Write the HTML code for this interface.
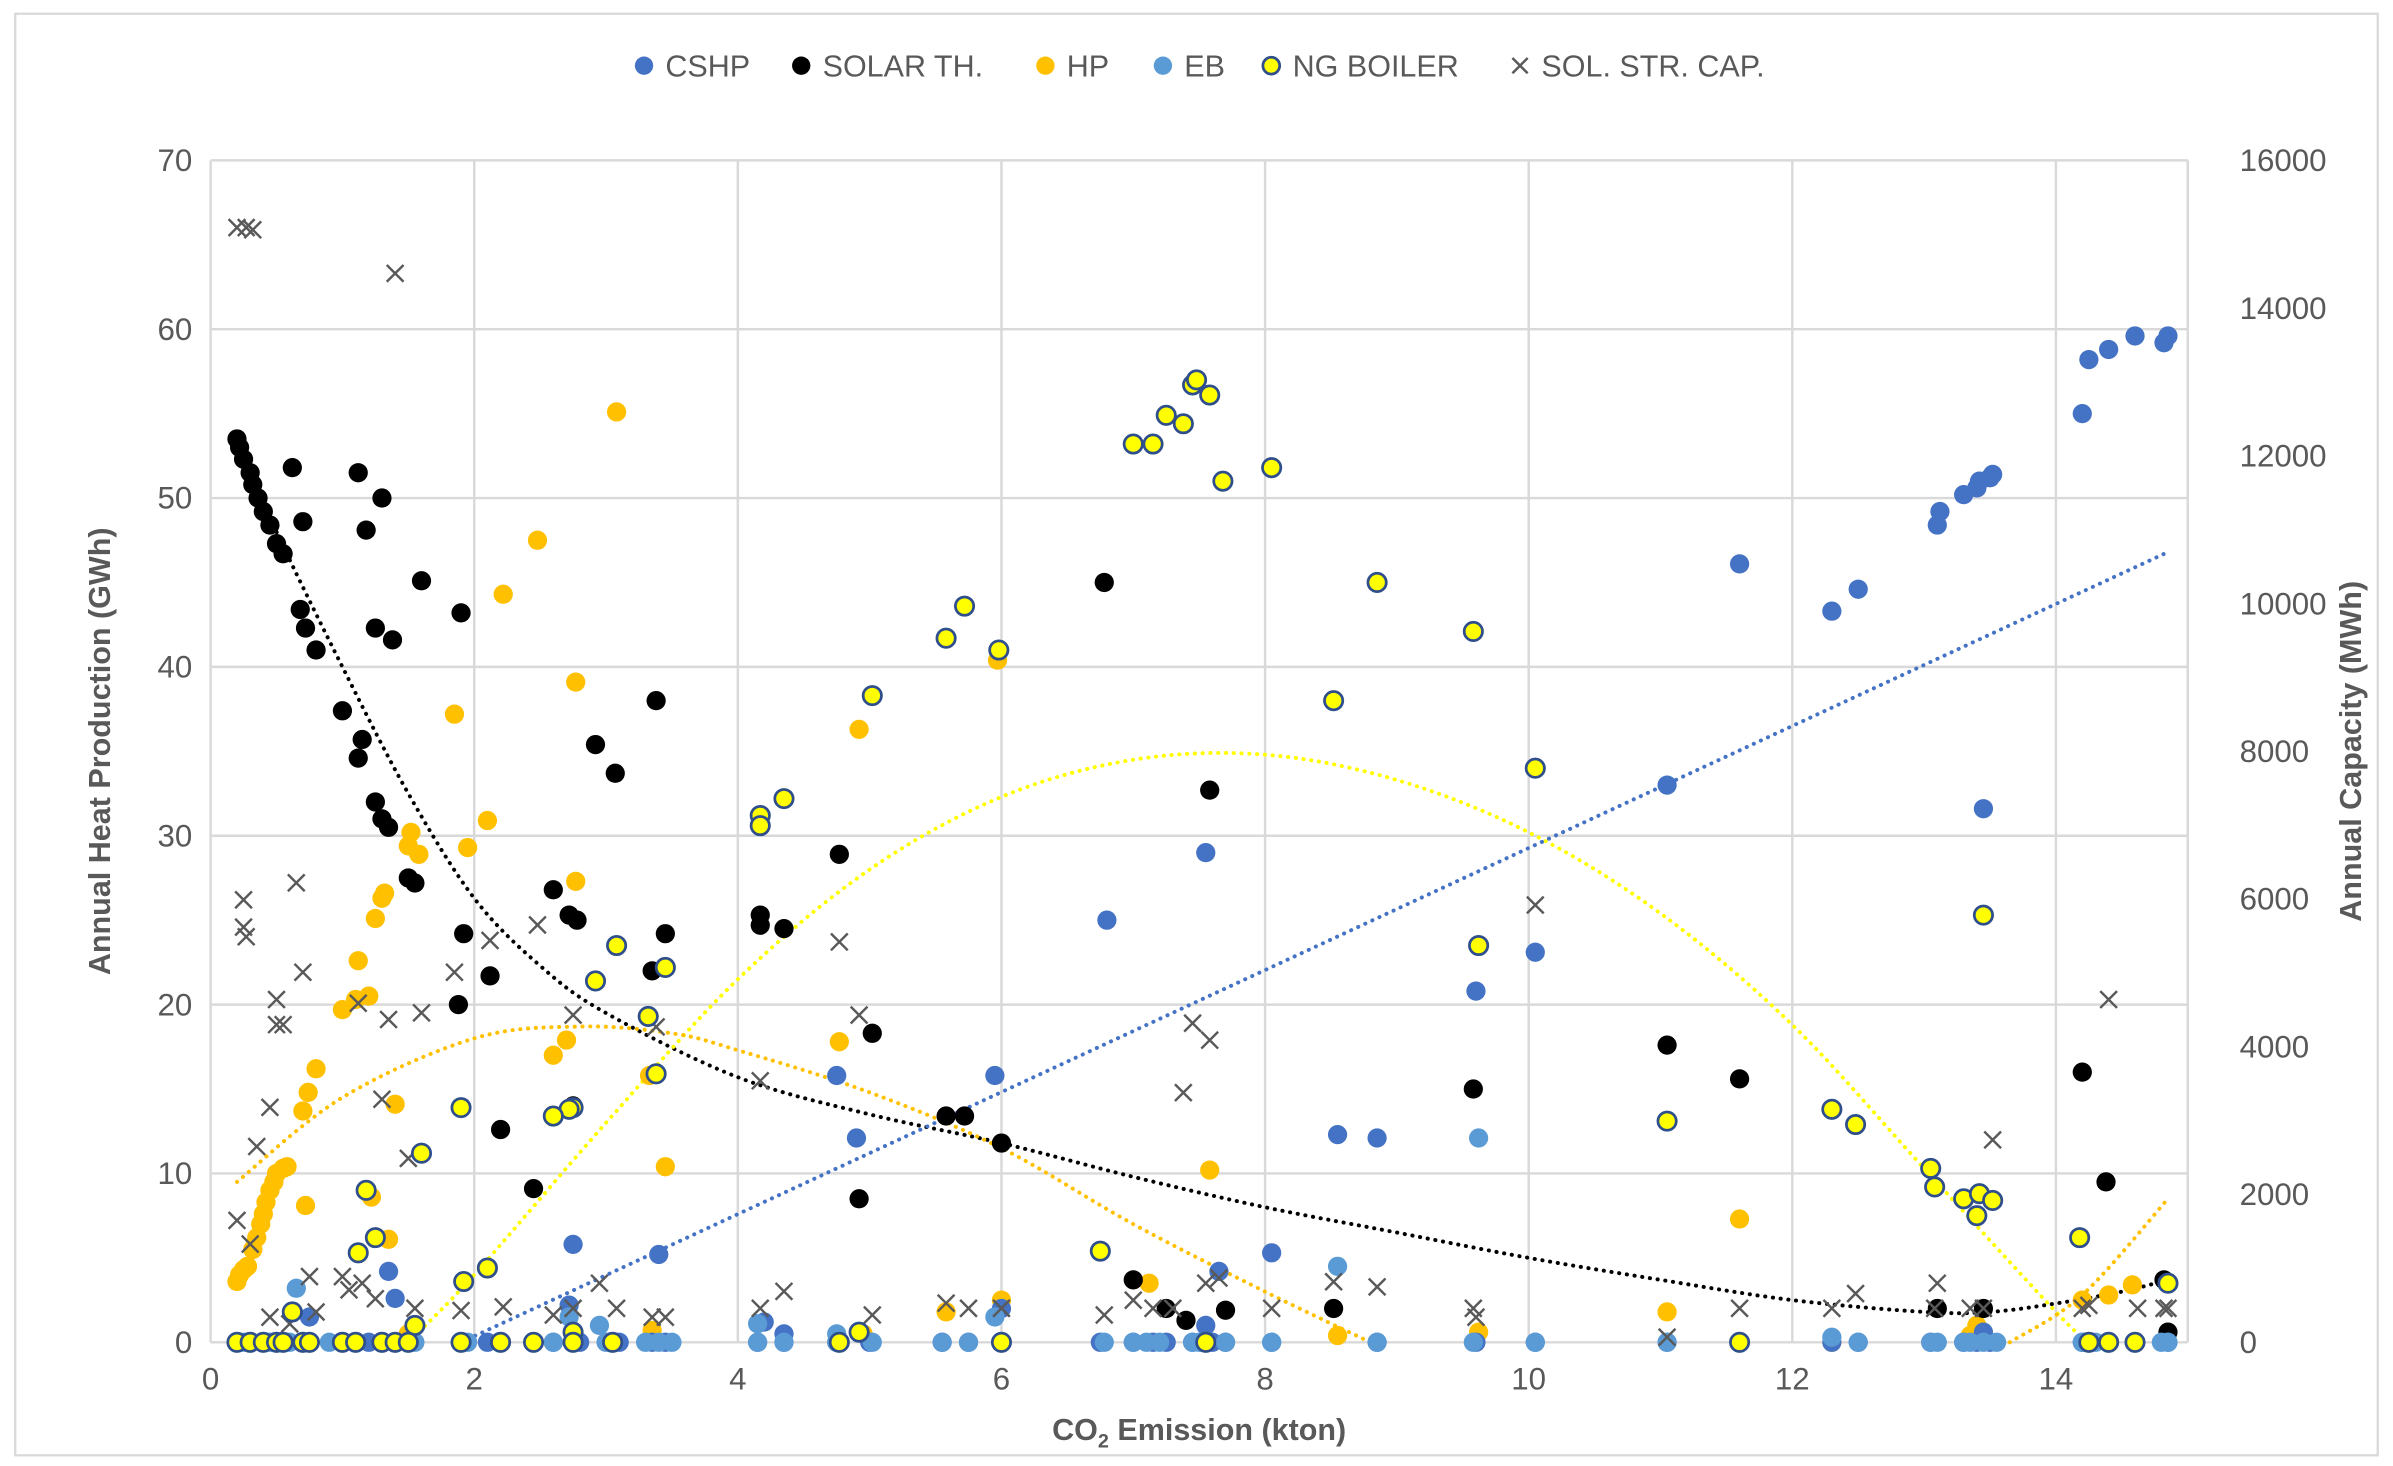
<!DOCTYPE html>
<html><head><meta charset="utf-8"><style>
html,body{margin:0;padding:0;background:#fff;}
svg{display:block;}
text{font-family:"Liberation Sans",sans-serif;}
</style></head><body>
<svg id="chart" width="2393" height="1466" viewBox="0 0 1568 960" preserveAspectRatio="none" xmlns="http://www.w3.org/2000/svg">
<rect x="10" y="9" width="1548" height="944" fill="#fff" stroke="#d9d9d9" stroke-width="1.5"/>
<g id="grid"></g>
<g id="axes"></g>
<g id="trends"></g>
<g id="marks"></g>
<g id="legend"></g>
</svg>
<script>
// ---- data (x: CO2 kton, y: GWh; storage in MWh) ----
const cshpX=[14.2,14.25,14.4,14.6,14.82,14.85,13.1,13.12,13.3,13.4,13.42,13.5,13.52,11.6,12.3,12.5,11.05,13.45,7.55,6.8,10.05,9.6,8.55,8.85,5.95,4.9,4.75,8.05,7.65,3.4,2.75,1.35,1.4,2.72,0.75,4.2,4.35,6,7.55,13.45,0.2,0.3,0.5,0.7,1.0,1.2,1.5,1.9,2.1,2.6,2.8,3.1,3.35,3.45,4.15,4.35,4.75,5.0,5.55,5.75,6.0,6.75,7.0,7.15,7.25,7.45,7.6,7.7,8.05,8.85,9.6,10.05,11.05,11.6,12.3,12.5,13.05,13.3,13.4,13.5,14.2,14.85];
const cshpY=[55,58.2,58.8,59.6,59.2,59.6,48.4,49.2,50.2,50.6,51,51.2,51.4,46.1,43.3,44.6,33,31.6,29,25,23.1,20.8,12.3,12.1,15.8,12.1,15.8,5.3,4.2,5.2,5.8,4.2,2.6,2.2,1.5,1.2,0.5,2,1,0.6,0,0,0,0,0,0,0,0,0,0,0,0,0,0,0,0,0,0,0,0,0,0,0,0,0,0,0,0,0,0,0,0,0,0,0,0,0,0,0,0,0,0];
const solarX=[0.2,0.22,0.25,0.3,0.32,0.36,0.4,0.45,0.5,0.55,0.62,0.7,0.68,0.72,0.8,1.0,1.12,1.18,1.3,1.25,1.38,1.15,1.12,1.25,1.3,1.35,1.5,1.55,1.6,1.9,1.92,1.88,2.12,2.2,2.45,2.6,2.72,2.78,2.92,3.07,3.38,3.35,3.45,4.17,4.17,4.35,4.77,4.92,5.02,5.58,5.72,6.0,6.78,7.58,7.0,7.25,7.4,7.7,8.52,9.58,11.05,11.6,14.2,14.38,14.82,14.85,13.1,13.45,2.75];
const solarY=[53.5,53,52.3,51.5,50.8,50,49.2,48.4,47.3,46.7,51.8,48.6,43.4,42.3,41,37.4,51.5,48.1,50,42.3,41.6,35.7,34.6,32,31,30.5,27.5,27.2,45.1,43.2,24.2,20,21.7,12.6,9.1,26.8,25.3,25,35.4,33.7,38,22,24.2,25.3,24.7,24.5,28.9,8.5,18.3,13.4,13.4,11.8,45,32.7,3.7,2,1.3,1.9,2,15,17.6,15.6,16,9.5,3.7,0.6,2,2,14];
const hpX=[0.2,0.22,0.25,0.28,0.32,0.35,0.38,0.4,0.42,0.45,0.48,0.5,0.55,0.58,0.7,0.74,0.8,0.72,1.0,1.1,1.12,1.2,1.25,1.3,1.32,1.22,1.35,1.4,1.5,1.52,1.58,1.85,1.95,2.1,2.22,2.48,2.6,2.7,2.77,2.77,3.08,3.33,3.45,4.77,4.92,5.97,6.0,5.58,7.12,7.58,11.6,11.05,8.55,14.2,14.4,14.58,13.4,13.35,12.3,3.35,9.62,4.95,1.5];
const hpY=[3.6,4,4.3,4.5,5.5,6.2,7,7.6,8.3,9,9.5,10,10.3,10.4,13.7,14.8,16.2,8.1,19.7,20.3,22.6,20.5,25.1,26.3,26.6,8.6,6.1,14.1,29.4,30.2,28.9,37.2,29.3,30.9,44.3,47.5,17,17.9,39.1,27.3,55.1,15.8,10.4,17.8,36.3,40.4,2.5,1.8,3.5,10.2,7.3,1.8,0.4,2.5,2.8,3.4,1,0.4,0,0.7,0.6,0.5,0.5];
const ebX=[0.65,9.62,8.55,4.75,4.15,2.72,2.95,5.95,12.3,0.25,0.45,0.6,0.9,1.3,1.55,1.95,2.2,2.6,2.75,3.0,3.3,3.4,3.5,4.15,4.35,4.75,5.02,5.55,5.75,6.0,6.78,7.0,7.1,7.2,7.45,7.5,7.7,8.05,8.85,9.58,10.05,11.05,11.6,12.5,13.05,13.1,13.3,13.35,13.45,13.55,14.2,14.3,14.8,14.85];
const ebY=[3.2,12.1,4.5,0.5,1.1,1.5,1,1.5,0.3,0,0,0,0,0,0,0,0,0,0,0,0,0,0,0,0,0,0,0,0,0,0,0,0,0,0,0,0,0,0,0,0,0,0,0,0,0,0,0,0,0,0,0,0,0];
const ngX=[7.0,7.15,7.25,7.38,7.45,7.48,7.58,7.68,8.05,8.85,9.58,8.52,10.05,5.58,5.72,5.98,5.02,4.17,4.17,4.35,3.08,3.45,2.92,3.32,3.38,2.75,2.72,2.6,1.9,2.1,1.92,1.6,1.18,1.25,1.12,0.62,1.55,9.62,11.05,12.3,12.48,13.05,13.08,13.3,13.42,13.4,13.52,13.45,14.18,14.85,6.75,4.92,2.75,0.2,0.3,0.4,0.5,0.55,0.7,0.75,1.0,1.1,1.3,1.4,1.5,1.9,2.2,2.45,2.75,3.05,4.77,6.0,7.55,11.6,14.25,14.4,14.6];
const ngY=[53.2,53.2,54.9,54.4,56.7,57,56.1,51,51.8,45,42.1,38,34,41.7,43.6,41,38.3,31.2,30.6,32.2,23.5,22.2,21.4,19.3,15.9,13.9,13.8,13.4,13.9,4.4,3.6,11.2,9,6.2,5.3,1.8,1,23.5,13.1,13.8,12.9,10.3,9.2,8.5,8.8,7.5,8.4,25.3,6.2,3.5,5.4,0.6,0.6,0,0,0,0,0,0,0,0,0,0,0,0,0,0,0,0,0,0,0,0,0,0,0,0];
const capX=[0.2,0.27,0.32,1.4,0.25,0.25,0.27,0.65,0.7,0.5,0.5,0.55,1.12,1.35,1.6,1.85,2.12,2.48,2.75,3.38,4.17,4.77,4.92,7.45,7.58,7.38,10.05,13.52,14.4,0.35,0.45,1.3,1.5,0.2,0.3,0.75,1.0,1.05,1.25,1.15,2.95,0.45,0.6,0.8,1.55,1.9,2.22,2.6,2.75,3.08,3.35,3.45,4.17,4.35,5.02,5.58,5.75,6.0,6.78,7.0,7.15,7.3,7.55,7.65,8.05,8.52,8.85,9.58,9.6,11.05,11.6,12.3,12.48,13.1,13.08,13.35,13.45,14.2,14.25,14.62,14.82,14.85];
const capY=[15090,15090,15060,14470,5990,5620,5490,6220,5010,4640,4300,4300,4590,4370,4460,5010,5440,5650,4430,4270,3540,5420,4430,4320,4090,3380,5920,2740,4640,2650,3180,3290,2490,1650,1330,890,890,710,590,800,800,340,250,410,460,430,480,370,460,460,340,340,460,690,370,530,460,460,370,570,460,460,800,870,460,820,750,460,340,70,460,460,660,800,460,460,460,460,500,460,460,460];
// trendlines
const trendSolarX=[0.2,0.5,1,1.5,2,2.5,3,4,5,6,7,8,9,10,11,12,13,13.5,14,14.5,14.85];
const trendSolarY=[53.5,48,40,32.5,26.3,22.3,19.5,15.7,13.5,11.8,9.8,8,6.5,5,3.7,2.5,1.8,1.8,2.3,3,3.7];
const trendNgX=[1.5,2,3,4,5,6,7,8,9,10,11,12,13,14,14.25];
const trendNgY=[0,4,13,21.5,28,32.3,34.5,34.8,33.3,30.2,25.4,18.8,10.3,1.8,0];
const trendHpX=[0.2,1,2,2.8,3.5,4,5,6,7,8,8.8];
const trendHpY=[9.5,14.5,18,18.7,18.3,17.3,14.8,11.5,7,3,0];
const trendHp2X=[13.65,14.2,14.85];
const trendHp2Y=[0,2.8,8.5];
const trendCshpX=[1.9,14.85];
const trendCshpY=[0,46.8];
const xTicks=[0,2,4,6,8,10,12,14];
const yTicks=[0,10,20,30,40,50,60,70];
const y2Ticks=[0,2000,4000,6000,8000,10000,12000,14000,16000];

// ---- axes ----
const L=138,R=1433.5,T=105,B=879;
const xs=v=>L+(v/15)*(R-L);
const ys=v=>B-(v/70)*(B-T);
const y2s=v=>B-(v/16000)*(B-T);
const NS="http://www.w3.org/2000/svg";
function mk(tag,parent,attrs){const e=document.createElementNS(NS,tag);for(const k in attrs)e.setAttribute(k,attrs[k]);parent.appendChild(e);return e;}
const grid=document.getElementById('grid'),axes=document.getElementById('axes'),trends=document.getElementById('trends'),marks=document.getElementById('marks'),legend=document.getElementById('legend');
yTicks.forEach(t=>{const l=mk('line',grid,{x1:L,x2:R,y1:ys(t),y2:ys(t),stroke:'#d9d9d9','stroke-width':1.6});


const tx=mk('text',axes,{x:L-12,y:ys(t)+7,'text-anchor':'end','font-size':20.5,fill:'#595959'});tx.textContent=t;

});
xTicks.forEach(t=>{const l=mk('line',grid,{x1:xs(t),x2:xs(t),y1:T,y2:B,stroke:'#d9d9d9','stroke-width':1.6});


const tx=mk('text',axes,{x:xs(t),y:B+31,'text-anchor':'middle','font-size':20.5,fill:'#595959'});tx.textContent=t;

});
mk('line',grid,{x1:R,x2:R,y1:T,y2:B,stroke:'#d9d9d9','stroke-width':1.6});
y2Ticks.forEach(t=>{const tx=mk('text',axes,{x:R+34,y:y2s(t)+7,'text-anchor':'start','font-size':20.5,fill:'#595959'});tx.textContent=t;

});
let at=mk('text',axes,{x:xs(7.5),y:943,'text-anchor':'middle','font-size':20,'font-weight':'bold',fill:'#595959'});
at.innerHTML='CO<tspan font-size="13" dy="5">2</tspan><tspan dy="-5"> Emission (kton)</tspan>';


at=mk('text',axes,{x:0,y:0,'text-anchor':'middle','font-size':20,'font-weight':'bold',fill:'#595959',transform:`translate(72,${(T+B)/2}) rotate(-90)`});
at.textContent='Annual Heat Production (GWh)';


at=mk('text',axes,{x:0,y:0,'text-anchor':'middle','font-size':20,'font-weight':'bold',fill:'#595959',transform:`translate(1547,${(T+B)/2}) rotate(-90)`});
at.textContent='Annual Capacity (MWh)';



// ---- trendlines (smoothed Catmull-Rom) ----
function smoothPath(pts){if(pts.length<3)return 'M'+pts.map(p=>p.join(',')).join('L');
let d='M'+pts[0][0]+','+pts[0][1];
for(let i=0;i<pts.length-1;i++){const p0=pts[Math.max(0,i-1)],p1=pts[i],p2=pts[i+1],p3=pts[Math.min(pts.length-1,i+2)];
const c1=[p1[0]+(p2[0]-p0[0])/6,p1[1]+(p2[1]-p0[1])/6],c2=[p2[0]-(p3[0]-p1[0])/6,p2[1]-(p3[1]-p1[1])/6];
d+=`C${c1[0]},${c1[1]} ${c2[0]},${c2[1]} ${p2[0]},${p2[1]}`;}return d;}
function trend(xa,ya,color,name){const pts=xa.map((x,i)=>[xs(x),ys(ya[i])]);
const p=mk('path',trends,{d:smoothPath(pts),fill:'none',stroke:color,'stroke-width':2.6,'stroke-dasharray':'0.1 5','stroke-linecap':'round'});

}
trend(trendSolarX,trendSolarY,'#000','solar-trendline');
trend(trendNgX,trendNgY,'#ffff00','ng-boiler-trendline');
trend(trendHpX,trendHpY,'#ffc000','hp-trendline');
trend(trendHp2X,trendHp2Y,'#ffc000','hp-trendline-tail');
trend(trendCshpX,trendCshpY,'#4472c4','cshp-trendline');

// ---- markers ----
function dots(xa,ya,fill,name,stroke){xa.forEach((x,i)=>{const c=mk('circle',marks,{cx:xs(x),cy:ys(ya[i]),r:stroke?6:6.3,fill:fill});
if(stroke){c.setAttribute('stroke',stroke);c.setAttribute('stroke-width',1.8);}

});}
function crosses(xa,ya){xa.forEach((x,i)=>{const cx=xs(x),cy=y2s(ya[i]),s=5.5;
const p=mk('path',marks,{d:`M${cx-s},${cy-s}L${cx+s},${cy+s}M${cx+s},${cy-s}L${cx-s},${cy+s}`,stroke:'#595959','stroke-width':1.6,fill:'none'});

});}
dots(hpX,hpY,'#ffc000','hp-point');
dots(solarX,solarY,'#000000','solar-th-point');
dots(cshpX,cshpY,'#4472c4','cshp-point');
dots(ebX,ebY,'#5b9bd5','eb-point');
crosses(capX,capY);
dots(ngX,ngY,'#ffff00','ng-boiler-point','#2f4e8c');

// ---- legend ----
const legItems=[['CSHP',422,'#4472c4',null],['SOLAR TH.',525,'#000',null],['HP',685,'#ffc000',null],['EB',762,'#5b9bd5',null],['NG BOILER',833,'#ffff00','#2f4e8c'],['SOL. STR. CAP.',996,null,null]];
legItems.forEach(it=>{const g=mk('g',legend,{});


if(it[2]){const c=mk('circle',g,{cx:it[1],cy:43,r:it[3]?5.5:6,fill:it[2]});if(it[3]){c.setAttribute('stroke',it[3]);c.setAttribute('stroke-width',1.8);}}
else{mk('path',g,{d:`M${it[1]-5},38L${it[1]+5},48M${it[1]+5},38L${it[1]-5},48`,stroke:'#595959','stroke-width':1.6});}
const t=mk('text',g,{x:it[1]+14,y:50,'font-size':20,fill:'#595959'});t.textContent=it[0];});
</script>
</body></html>
